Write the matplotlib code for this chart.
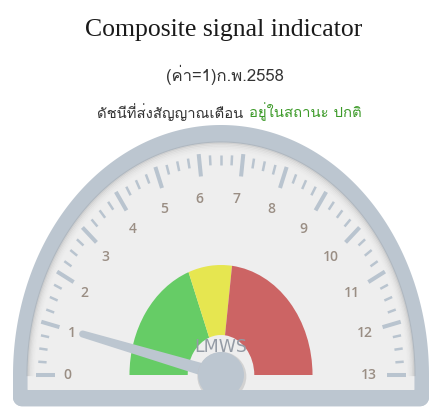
import matplotlib
matplotlib.use("Agg")
import matplotlib.pyplot as plt
from matplotlib.patches import Polygon, Wedge, Ellipse
import numpy as np

# gauge data
gauge_min = 0
gauge_max = 13
needle_value = 1
band_from = [0, 5, 7]
band_to = [5, 7, 13]
band_colors = ['#66cc66', '#e6e650', '#cc6464']
tick_labels = [str(i) for i in range(gauge_min, gauge_max + 1)]
minor_per_major = 4

title = "Composite signal indicator"
subtitle = "(ค่า=1)ก.พ.2558"
status_text = "ดัชนีที่ส่งสัญญาณเตือน"
status_value = "อยู่ในสถานะ ปกติ"
pane_label = "LMWS"

W, H = 433, 408
fig = plt.figure(figsize=(W / 100, H / 100), dpi=100)
ax = fig.add_axes([0, 0, 1, 1])
ax.set_axis_off()
# pixel scale of the unit radius (the gauge is a little taller than wide)
sx, sy = 208.0, 250.0
cx, cy = 221.0, 375.0
ax.set_xlim(-cx / sx, (W - cx) / sx)
ax.set_ylim((cy - H) / sy, cy / sy)

band_grey = '#bcc6d0'
tick_grey = '#b9c4cf'


def val2ang(v):
    return np.radians(180.0 - 180.0 * (v - gauge_min) / (gauge_max - gauge_min))


def outline(r, bottom, corner):
    t = np.linspace(0, np.pi, 200)
    xs = list(r * np.cos(t))
    ys = list(r * np.sin(t))
    # rounded bottom corners
    c = np.linspace(np.pi, 1.5 * np.pi, 12)
    xs += list(-r + corner / sx * (1 + np.cos(c)))
    ys += list(bottom + corner / sy * (1 + np.sin(c)))
    c = np.linspace(1.5 * np.pi, 2 * np.pi, 12)
    xs += list(r - corner / sx * (1 - np.cos(c)))
    ys += list(bottom + corner / sy * (1 + np.sin(c)))
    return np.column_stack([xs, ys])


# pane background
ax.add_patch(Polygon(outline(1.0, -0.125, 9), closed=True, fc=band_grey, ec='none', zorder=1))
ax.add_patch(Polygon(outline(0.93, -0.06, 0.5), closed=True, fc='#eeeeee', ec='none', zorder=2))
# soft inner shadow under the rim
t = np.linspace(0, np.pi, 200)
for k, a in enumerate([0.16, 0.11, 0.07, 0.045, 0.025, 0.012]):
    rr = 0.93 - 0.006 * k
    ax.plot(rr * np.cos(t), rr * np.sin(t), color='#707070', alpha=a, lw=1.6, zorder=2.1)

# bands
for f, tt, c in zip(band_from, band_to, band_colors):
    ax.add_patch(Wedge((0, 0), 0.44, np.degrees(val2ang(tt)), np.degrees(val2ang(f)),
                       width=0.28, fc=c, ec='none', zorder=3))

# ticks
n_minor = (gauge_max - gauge_min) * minor_per_major
for i in range(n_minor + 1):
    a = val2ang(gauge_min + i / minor_per_major)
    if i % minor_per_major == 0:
        r0, r1, lw = 0.80, 0.89, 2.9
    else:
        r0, r1, lw = 0.84, 0.88, 1.8
    ax.plot([r0 * np.cos(a), r1 * np.cos(a)], [r0 * np.sin(a), r1 * np.sin(a)],
            color=tick_grey, lw=lw, solid_capstyle='butt', zorder=4)

for i, lab in enumerate(tick_labels):
    a = val2ang(gauge_min + i)
    ax.text(0.725 * np.cos(a) - 3 / sx, 0.71 * np.sin(a), lab,
            ha='center', va='center', fontsize=10, color='#9a8e84',
            family='Open Sans', weight='semibold', zorder=4)

ax.text(0.0, 0.112, pane_label, ha='center', va='center', fontsize=12.5,
        color='#949ba5', family='Liberation Sans Narrow', zorder=5)

# needle, built in pixel space then mapped back
a = val2ang(needle_value)
L = 0.685
dx, dy = L * np.cos(a) * sx, L * np.sin(a) * sy
ln = np.hypot(dx, dy)
ux, uy = dx / ln, dy / ln
nx, ny = -uy, ux
base_w, top_w = 6.5, 3.5
pts = [(nx * base_w, ny * base_w)]
pts.append((dx + nx * top_w, dy + ny * top_w))
for c in np.linspace(0, np.pi, 10)[1:-1]:
    pts.append((dx + top_w * (nx * np.cos(c) + ux * np.sin(c)),
                dy + top_w * (ny * np.cos(c) + uy * np.sin(c))))
pts.append((dx - nx * top_w, dy - ny * top_w))
pts.append((-nx * base_w, -ny * base_w))
pts = np.array(pts)
pts[:, 0] /= sx
pts[:, 1] /= sy
ax.add_patch(Polygon(pts, closed=True, fc=band_grey, ec='none', zorder=6))

# pivot
ax.add_patch(Ellipse((0.004, -0.006), 2 * 24.5 / sx, 2 * 24.5 / sy, fc='#c0c0c0', ec='none', alpha=0.6, zorder=6.5))
ax.add_patch(Ellipse((0, 0), 2 * 23 / sx, 2 * 23 / sy, fc=band_grey, ec='none', zorder=7))
# bottom strip sits over the pivot
ax.add_patch(Polygon(outline(1.0, -0.125, 9)[-24:].tolist() + [(1.0, -0.06), (-1.0, -0.06)],
                     closed=True, fc=band_grey, ec='none', zorder=8))

# titles
fig.text(224 / W, 1 - 30 / H, title, ha='center', va='center', fontsize=18.5,
         family='Liberation Serif', color='#1a1a1a')
fig.text(225 / W, 1 - 75 / H, subtitle, ha='center', va='center', fontsize=12,
         family='Loma', color='#333333')
fig.text(243 / W, 1 - 112 / H, status_text, ha='right', va='center', fontsize=10.7,
         family='Loma', color='#333333')
fig.text(249 / W, 1 - 112 / H, status_value, ha='left', va='center', fontsize=10.7,
         family='Loma', color='#3c9a28')

fig.savefig("out.png", dpi=100)
